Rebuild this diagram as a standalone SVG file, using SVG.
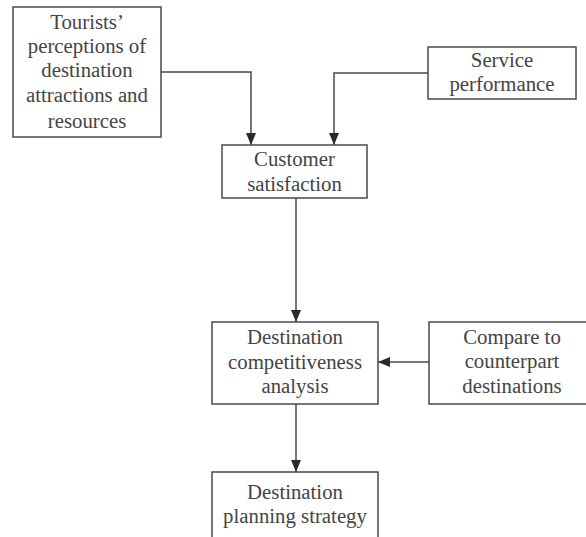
<svg xmlns="http://www.w3.org/2000/svg" width="586" height="537" viewBox="0 0 586 537">
<style>
.box{fill:#fff;stroke:#4a4a4a;stroke-width:1.5}
.t{font-family:"Liberation Serif","Times New Roman",serif;font-size:20.8px;fill:#444;text-anchor:middle}
.c{fill:none;stroke:#4a4a4a;stroke-width:1.5}
</style>
<defs>
<marker id="ah" viewBox="0 0 12 10" refX="12" refY="5" markerWidth="12" markerHeight="10" markerUnits="userSpaceOnUse" orient="auto">
<path d="M0,0 L12,5 L0,10 Z" fill="#2a2a2a"/>
</marker>
</defs>
<rect width="586" height="537" fill="#fff"/>
<g id="connectors">
<path class="c" d="M161,72 H251 V145" marker-end="url(#ah)"/>
<path class="c" d="M428,73 H334 V145" marker-end="url(#ah)"/>
<path class="c" d="M296,198 V322" marker-end="url(#ah)"/>
<path class="c" d="M429,362 H378" marker-end="url(#ah)"/>
<path class="c" d="M296,404 V472" marker-end="url(#ah)"/>
</g>
<g id="tourists">
<rect class="box" x="13" y="7" width="148" height="130"/>
<text class="t" x="87" y="29">Tourists’</text>
<text class="t" x="87" y="53">perceptions of</text>
<text class="t" x="87" y="77">destination</text>
<text class="t" x="87" y="102">attractions and</text>
<text class="t" x="87" y="128">resources</text>
</g>
<g id="service">
<rect class="box" x="428" y="47" width="148" height="52"/>
<text class="t" x="502" y="67">Service</text>
<text class="t" x="502" y="91">performance</text>
</g>
<g id="satisfaction">
<rect class="box" x="222" y="145" width="145" height="53"/>
<text class="t" x="294.5" y="166">Customer</text>
<text class="t" x="294.5" y="191">satisfaction</text>
</g>
<g id="competitiveness">
<rect class="box" x="212" y="322" width="166" height="82"/>
<text class="t" x="295" y="344">Destination</text>
<text class="t" x="295" y="369">competitiveness</text>
<text class="t" x="295" y="393">analysis</text>
</g>
<g id="compare">
<rect class="box" x="429" y="322" width="170" height="82"/>
<text class="t" x="512" y="344">Compare to</text>
<text class="t" x="512" y="368">counterpart</text>
<text class="t" x="512" y="393">destinations</text>
</g>
<g id="planning">
<rect class="box" x="212" y="472" width="166" height="80"/>
<text class="t" x="295" y="499">Destination</text>
<text class="t" x="295" y="523">planning strategy</text>
</g>
</svg>
